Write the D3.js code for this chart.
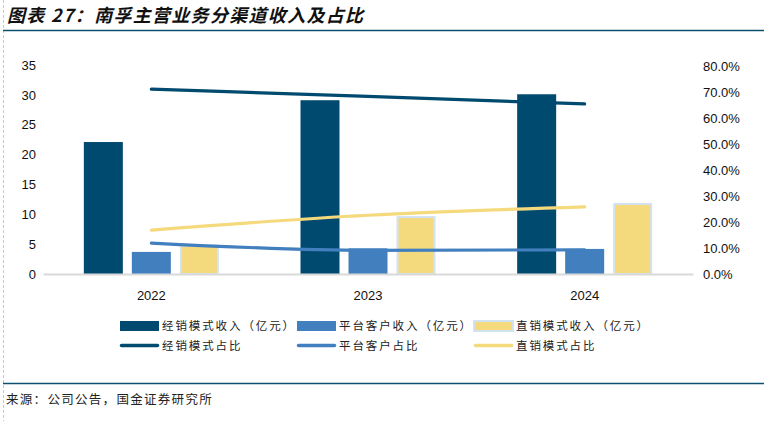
<!DOCTYPE html>
<html>
<head>
<meta charset="utf-8">
<script src="https://cdn.jsdelivr.net/npm/d3@7"></script>
<style>
  body { margin: 0; background: #fff; }
  svg { display: block; }
</style>
</head>
<body>
<svg id="chart" width="764" height="421"></svg>
<script>
const years = ["2022", "2023", "2024"];
const barNames = ["经销模式收入（亿元）", "平台客户收入（亿元）", "直销模式收入（亿元）"];
const lineNames = ["经销模式占比", "平台客户占比", "直销模式占比"];
const dealerRev = [22.1, 29.1, 30.1];
const platformRev = [3.7, 4.3, 4.2];
const directRev = [4.9, 9.7, 11.9];
const dealerShare = [0.711, 0.683, 0.654];
const platformShare = [0.119, 0.091, 0.093];
const directShare = [0.169, 0.226, 0.258];
const leftTicks = [0, 5, 10, 15, 20, 25, 30, 35];
const rightTicks = [0, 0.1, 0.2, 0.3, 0.4, 0.5, 0.6, 0.7, 0.8];

const colors = ["#014a6f", "#427fbe", "#f5da7d"];
const svg = d3.select("#chart");
const cjk = "'Noto Sans CJK SC', sans-serif";

// frame bits
svg.append("line").attr("x1", 3.5).attr("x2", 3.5).attr("y1", 0).attr("y2", 421)
  .attr("stroke", "#c8c8c8").attr("stroke-dasharray", "3 2");
svg.append("text").attr("x", 7).attr("y", 22)
  .attr("font-family", cjk).attr("font-size", 18).attr("letter-spacing", 1.3)
  .attr("font-weight", "bold").attr("font-style", "italic").attr("fill", "#111")
  .text("图表 27：南孚主营业务分渠道收入及占比");
svg.append("line").attr("x1", 3).attr("x2", 764).attr("y1", 30.5).attr("y2", 30.5)
  .attr("stroke", "#0d4f6e").attr("stroke-width", 1.5);
svg.append("line").attr("x1", 3).attr("x2", 764).attr("y1", 383.5).attr("y2", 383.5)
  .attr("stroke", "#0d4f6e").attr("stroke-width", 1.5);
svg.append("text").attr("x", 6).attr("y", 404)
  .attr("font-family", cjk).attr("font-size", 12.5).attr("letter-spacing", 1.3).attr("fill", "#222")
  .text("来源：公司公告，国金证券研究所");

const x = d3.scaleBand().domain(years).range([43, 693]);
const xi = d3.scaleBand().domain([0, 1, 2]).range([0, 135]).paddingInner(0.1875);
const yL = d3.scaleLinear().domain([0, 35]).range([274, 65]);
const yR = d3.scaleLinear().domain([0, 0.8]).range([274, 66]);

const axisFont = "'Liberation Sans', Arial, sans-serif";

// left axis labels
const gl = svg.append("g").attr("transform", "translate(36,0)")
  .call(d3.axisLeft(yL).tickValues(leftTicks).tickSize(0).tickPadding(0));
gl.select(".domain").remove();
gl.selectAll("text").attr("font-family", axisFont).attr("font-size", 13).attr("fill", "#111");

const gr = svg.append("g").attr("transform", "translate(703,0)")
  .call(d3.axisRight(yR).tickValues(rightTicks).tickSize(0).tickPadding(0).tickFormat(d3.format(".1%")));
gr.select(".domain").remove();
gr.selectAll("text").attr("font-family", axisFont).attr("font-size", 13).attr("fill", "#111");

// bars
const series = [dealerRev, platformRev, directRev];
series.forEach((vals, si) => {
  svg.append("g").selectAll("rect").data(vals).join("rect")
    .attr("x", (d, i) => x(years[i]) + (x.bandwidth() - 135) / 2 + xi(si) + (si === 2 ? 1 : 0))
    .attr("width", xi.bandwidth() - (si === 2 ? 2 : 0))
    .attr("y", d => yL(d) + (si === 2 ? 1 : 0))
    .attr("height", d => yL(0) - yL(d) - (si === 2 ? 1 : 0))
    .attr("fill", colors[si])
    .attr("stroke", si === 2 ? "#d3e2f0" : null)
    .attr("stroke-width", si === 2 ? 2 : null);
});

// x axis baseline
const gx = svg.append("g").attr("transform", "translate(0,274)")
  .call(d3.axisBottom(x).tickSize(0).tickPadding(17));
gx.select(".domain").attr("stroke", "#d9d9d9").attr("stroke-width", 2);
gx.selectAll("text").attr("font-family", axisFont).attr("font-size", 13).attr("fill", "#111");

// share lines
const shares = [dealerShare, platformShare, directShare];
const line = d3.line()
  .x((d, i) => x(years[i]) + x.bandwidth() / 2)
  .y(d => yR(d))
  .curve(d3.curveMonotoneX);
shares.forEach((vals, si) => {
  svg.append("path").datum(vals).attr("d", line)
    .attr("fill", "none").attr("stroke", colors[si])
    .attr("stroke-width", 3.2).attr("stroke-linecap", "round");
});

// legend
const legX = [120, 297, 474];
barNames.forEach((n, i) => {
  svg.append("rect").attr("x", legX[i]).attr("y", 321).attr("width", 39).attr("height", 10)
    .attr("fill", colors[i])
    .attr("stroke", i === 2 ? "#d3e2f0" : null).attr("stroke-width", i === 2 ? 2 : null);
  svg.append("text").attr("x", legX[i] + 42).attr("y", 330)
    .attr("font-family", cjk).attr("font-size", 11.5).attr("letter-spacing", 1.9).attr("fill", "#222")
    .text(n);
});
lineNames.forEach((n, i) => {
  svg.append("line").attr("x1", legX[i] + 1.5).attr("x2", legX[i] + 37.5).attr("y1", 345.5).attr("y2", 345.5)
    .attr("stroke", colors[i]).attr("stroke-width", 3.5).attr("stroke-linecap", "round");
  svg.append("text").attr("x", legX[i] + 42).attr("y", 350)
    .attr("font-family", cjk).attr("font-size", 11.5).attr("letter-spacing", 1.9).attr("fill", "#222")
    .text(n);
});
</script>
</body>
</html>
